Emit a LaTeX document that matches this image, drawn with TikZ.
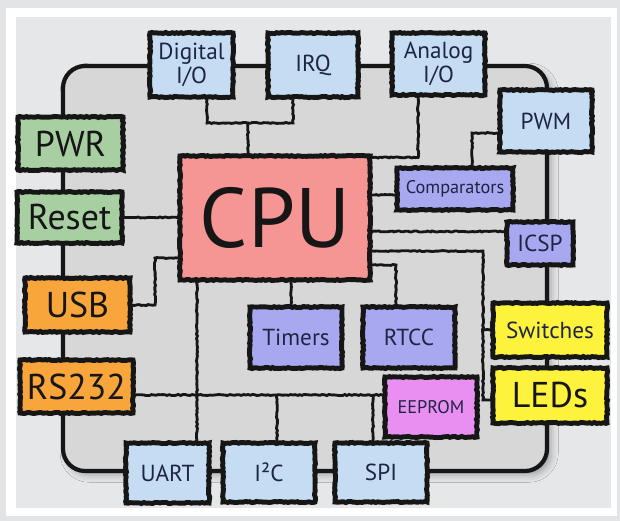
\documentclass[tikz,border=0pt]{standalone}
\usepackage{fontspec}
\setmainfont{PT Sans}
\usetikzlibrary{decorations.pathmorphing,shadows.blur}

\definecolor{framegray}{HTML}{E2E4E6}
\definecolor{panelgray}{HTML}{E6E7E9}
\definecolor{ringgray}{HTML}{D7D7D7}
\definecolor{inkblack}{HTML}{161616}
\definecolor{labelnavy}{HTML}{1D2542}
\definecolor{iofill}{HTML}{C6DCF3}
\definecolor{pwrfill}{HTML}{A7CFA2}
\definecolor{commfill}{HTML}{F8A53C}
\definecolor{perifill}{HTML}{A8A8F1}
\definecolor{cpufill}{HTML}{F59594}
\definecolor{memfill}{HTML}{E98FF2}
\definecolor{userfill}{HTML}{FDF23C}

\tikzset{
  rough/.style={decorate,decoration={random steps,segment length=1.6pt,amplitude=0.4pt}},
  blk/.style={rectangle,draw=inkblack,line width=3.5pt,rough,inner sep=0pt,align=center,
    text=labelnavy,font=\fontsize{16.5}{17}\selectfont},
  sz/.style 2 args={minimum width=#1cm,minimum height=#2cm},
  big/.style={text=inkblack,font=\fontsize{25.5}{26}\selectfont},
  small/.style={font=\fontsize{13}{14}\selectfont},
  iobox/.style={blk,fill=iofill},
  pwrbox/.style={blk,big,fill=pwrfill},
  commbox/.style={blk,big,fill=commfill},
  peribox/.style={blk,fill=perifill},
  userbox/.style={blk,fill=userfill},
  wire/.style={draw=inkblack,line width=2pt,rough},
  ring/.style={draw=inkblack,line width=3pt},
}

\begin{document}
\begin{tikzpicture}[x=0.025cm,y=-0.025cm,line cap=round]
\useasboundingbox (0,0) rectangle (620,521);
% frame and panel
\fill[framegray] (0,0) rectangle (620,521);
\fill[white] (6,8) rectangle (617,516);
\fill[panelgray] (16,17) rectangle (611,508);
% bus ring
\draw[ring,fill=ringgray,rounded corners=0.55cm,
  blur shadow={shadow xshift=3pt,shadow yshift=-3pt,shadow blur radius=5pt,shadow opacity=30}]
  (63,66) rectangle (547,471);

% blocks
\node[blk,fill=cpufill,text=inkblack,sz={4.75}{3.1},font=\fontsize{60}{60}\selectfont] (cpu) at (275,218) {CPU};
\node[iobox,sz={2.075}{1.6}] (dio) at (191.5,65) {Digital\\I/O};
\node[iobox,sz={2.25}{1.6}] (irq) at (313,65) {IRQ};
\node[iobox,sz={2.325}{1.55}] (aio) at (438.5,64) {Analog\\I/O};
\node[iobox,sz={2.3}{1.55}] (pwm) at (546,121) {PWM};
\node[peribox,small,sz={2.9}{1.05}] (comp) at (455,189) {Comparators};
\node[peribox,sz={1.65}{1.075}] (icsp) at (540,243.5) {ICSP};
\node[pwrbox,sz={2.625}{1.325}] (pwr) at (70.5,143.5) {PWR};
\node[pwrbox,sz={2.625}{1.275}] (reset) at (69.5,217.5) {Reset};
\node[commbox,sz={2.625}{1.35}] (usb) at (77.5,305) {USB};
\node[commbox,sz={2.825}{1.325}] (rs232) at (76.5,386.5) {RS232};
\node[iobox,sz={2.075}{1.5}] (uart) at (167.5,473) {UART};
\node[iobox,sz={2.3}{1.475}] (i2c) at (269,472.5) {I²C};
\node[iobox,sz={2.3}{1.475}] (spi) at (381,472.5) {SPI};
\node[peribox,sz={2.3}{1.525}] (timers) at (296,337.5) {Timers};
\node[peribox,sz={2.3}{1.525}] (rtcc) at (409,337.5) {RTCC};
\node[blk,small,fill=memfill,sz={2.3}{1.5}] (eeprom) at (431,407) {EEPROM};
\node[userbox,sz={2.85}{1.35}] (switches) at (550,330) {Switches};
\node[userbox,big,sz={2.85}{1.375}] (leds) at (550,395.5) {LEDs};

% junctions
\coordinate (dq) at (248,123);
\coordinate (sw) at (483,251);
\coordinate (rt) at (396,265);
\coordinate (ua) at (197,280);
\coordinate (ub) at (155,258);
\coordinate (rb) at (277,395);
\coordinate (sb) at (373,395);

% connections
\draw[wire] ([xshift=0.39cm]dio.south) |- (dq) -| ([xshift=-0.5cm]irq.south);
\draw[wire] (dq) -- (dq |- cpu.north);
\draw[wire] ([xshift=-0.51cm]aio.south) |- ([yshift=-0.1cm]cpu.north east);
\draw[wire] ([yshift=-0.15cm]comp.west) -- ([yshift=-0.15cm]comp.west -| cpu.east);
\draw[wire] ([xshift=0.425cm]comp.north) |- ([yshift=-0.3cm]pwm.west);
\draw[wire] ([yshift=0.3cm]icsp.west) -- ([yshift=0.3cm]icsp.west -| cpu.east);
\draw[wire] (cpu.east |- sw) -- (sw) |- ([yshift=-0.11cm]leds.west);
\draw[wire] (sw |- switches.west) -- (switches.west);
\draw[wire] (cpu.east |- rt) -| ([xshift=-0.325cm]rtcc.north);
\draw[wire] ([xshift=-0.125cm]timers.north) -- ([xshift=-0.125cm]timers.north |- cpu.south);
\draw[wire] (ua) -- (ua |- uart.north);
\draw[wire] (cpu.west |- ub) -- (ub) |- (usb.east);
\draw[wire] (reset.east) -- (reset.east -| cpu.west);
\draw[wire] (rs232.east |- rb) -- (rb -| eeprom.west);
\draw[wire] (rb) -- (rb |- i2c.north);
\draw[wire] (sb) -- (sb |- spi.north);
\end{tikzpicture}
\end{document}
